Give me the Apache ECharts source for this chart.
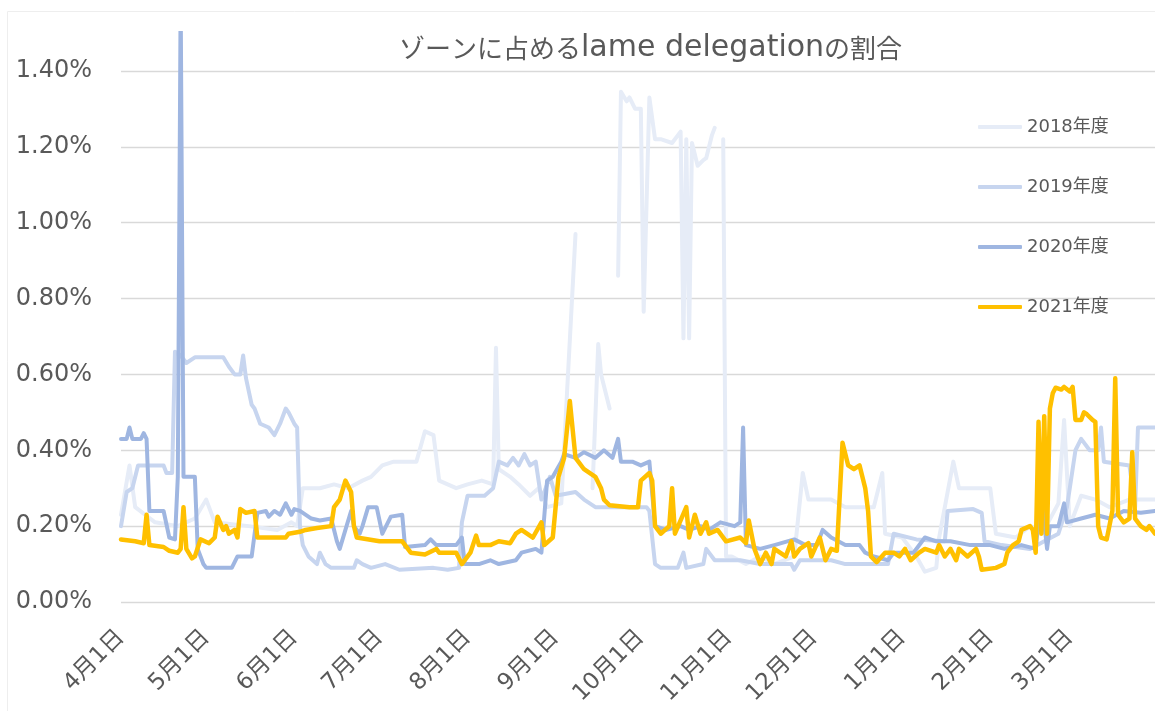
<!DOCTYPE html>
<html>
<head>
<meta charset="utf-8">
<script src="https://cdn.jsdelivr.net/npm/echarts@6/dist/echarts.min.js"></script>
<style>
html,body{margin:0;padding:0;background:#fff;}
#c{width:1155px;height:711px;}
</style>
</head>
<body>
<div id="c"></div>
<script>
// Tick labels / categories (fiscal year Apr 1 .. Mar 31)
const monthNames = [4,5,6,7,8,9,10,11,12,1,2,3];
const monthDays  = [30,31,30,31,31,30,31,30,31,31,28,31];
const seriesNames = ['2018年度','2019年度','2020年度','2021年度'];

// Series values: [day index from Apr 1, ratio in %]; null = missing
const s2018 = [[0,0.23],[3,0.36],[5,0.25],[12,0.21],[20,0.2],[26,0.22],[30,0.27],[33,0.21],[45,0.2],[55,0.19],[60,0.21],[62,0.2],[64,0.3],[70,0.3],[75,0.31],[80,0.3],[85,0.32],[88,0.33],[92,0.36],[96,0.37],[104,0.37],[107,0.45],[110,0.44],[112,0.32],[118,0.3],[122,0.31],[127,0.32],[131,0.31],[132,0.67],[133,0.35],[137,0.33],[140,0.31],[144,0.28],[147,0.3],[150,0.25],[155,0.26],[157,0.55],[160,0.97],[162,null],[166,0.3],[168,0.68],[169,0.6],[170,0.57],[172,0.51],[173,null],[175,0.86],[176,1.345],[178,1.32],[179,1.33],[181,1.3],[183,1.3],[184,0.765],[186,1.33],[188,1.22],[190,1.22],[194,1.21],[197,1.24],[198,0.695],[199,1.22],[200,0.695],[201,1.21],[203,1.15],[205,1.165],[206,1.17],[208,1.23],[209,1.25],[210,null],[212,1.22],[213,0.12],[215,0.12],[220,0.1],[225,0.12],[230,0.1],[237,0.12],[240,0.34],[242,0.27],[250,0.27],[255,0.25],[265,0.25],[268,0.34],[269,0.18],[275,0.17],[280,0.12],[283,0.08],[287,0.09],[288,0.17],[293,0.37],[295,0.3],[303,0.3],[306,0.3],[308,0.18],[315,0.17],[320,0.2],[325,0.19],[330,0.26],[332,0.48],[334,0.2],[338,0.28],[343,0.27],[348,0.25],[355,0.27],[364,0.27]];

const s2019 = [[0,0.2],[2,0.29],[4,0.3],[6,0.36],[15,0.36],[16,0.34],[18,0.34],[19,0.66],[21,0.65],[23,0.63],[26,0.645],[36,0.645],[38,0.62],[40,0.6],[42,0.6],[43,0.65],[44,0.59],[46,0.52],[47,0.51],[49,0.47],[52,0.46],[54,0.44],[56,0.47],[58,0.51],[59,0.5],[61,0.47],[62,0.46],[63,0.2],[64,0.15],[66,0.12],[69,0.1],[70,0.13],[72,0.1],[74,0.09],[82,0.09],[83,0.11],[85,0.1],[88,0.09],[93,0.1],[98,0.085],[110,0.09],[115,0.085],[119,0.09],[120,0.21],[122,0.28],[128,0.28],[131,0.3],[133,0.37],[136,0.36],[138,0.38],[140,0.36],[142,0.39],[144,0.36],[146,0.37],[148,0.27],[151,0.33],[153,0.28],[160,0.29],[163,0.27],[167,0.25],[185,0.25],[186,0.24],[188,0.1],[190,0.09],[196,0.09],[198,0.13],[199,0.09],[205,0.1],[206,0.14],[209,0.11],[218,0.11],[225,0.1],[236,0.1],[237,0.085],[239,0.11],[250,0.11],[255,0.1],[265,0.1],[270,0.1],[272,0.18],[280,0.165],[290,0.16],[291,0.24],[300,0.245],[303,0.235],[304,0.16],[310,0.15],[320,0.14],[325,0.16],[330,0.18],[333,0.25],[336,0.4],[338,0.43],[341,0.4],[344,0.4],[345,0.46],[346,0.37],[355,0.36],[357,0.25],[358,0.46],[364,0.46]];

const s2020 = [[0,0.43],[2,0.43],[3,0.46],[4,0.43],[7,0.43],[8,0.445],[9,0.43],[10,0.24],[15,0.24],[17,0.17],[19,0.165],[20,0.33],[21,1.6],[22,0.33],[26,0.33],[27,0.14],[29,0.1],[30,0.09],[39,0.09],[41,0.12],[46,0.12],[48,0.235],[51,0.24],[52,0.225],[54,0.24],[56,0.23],[58,0.26],[60,0.23],[61,0.245],[63,0.24],[67,0.22],[70,0.215],[74,0.22],[76,0.16],[77,0.14],[79,0.19],[81,0.24],[82,0.2],[84,0.18],[85,0.2],[87,0.25],[90,0.25],[92,0.18],[95,0.225],[99,0.23],[100,0.145],[107,0.15],[109,0.165],[111,0.15],[118,0.15],[120,0.17],[121,0.1],[126,0.1],[130,0.11],[133,0.1],[139,0.11],[141,0.13],[146,0.14],[148,0.13],[150,0.32],[152,0.33],[155,0.37],[156,0.39],[160,0.38],[163,0.395],[167,0.38],[170,0.4],[173,0.38],[175,0.43],[176,0.37],[180,0.37],[183,0.36],[186,0.37],[188,0.2],[192,0.19],[197,0.2],[200,0.19],[204,0.2],[207,0.19],[211,0.21],[216,0.2],[218,0.21],[219,0.46],[220,0.15],[225,0.14],[230,0.15],[237,0.165],[241,0.15],[245,0.15],[247,0.19],[250,0.17],[255,0.15],[260,0.15],[262,0.13],[265,0.12],[270,0.11],[272,0.13],[279,0.13],[283,0.17],[287,0.16],[292,0.16],[299,0.15],[306,0.15],[311,0.14],[317,0.15],[322,0.14],[324,0.28],[326,0.14],[327,0.2],[330,0.2],[332,0.26],[333,0.21],[338,0.22],[343,0.23],[348,0.22],[353,0.24],[359,0.235],[364,0.24]];

const s2021 = [[0,0.165],[5,0.16],[8,0.155],[9,0.23],[10,0.15],[15,0.145],[17,0.135],[20,0.13],[21,0.14],[22,0.25],[23,0.14],[25,0.115],[26,0.12],[28,0.165],[31,0.155],[33,0.17],[34,0.225],[36,0.19],[37,0.2],[38,0.18],[40,0.19],[41,0.17],[42,0.245],[44,0.235],[47,0.24],[48,0.17],[58,0.17],[59,0.18],[63,0.185],[65,0.19],[69,0.195],[74,0.2],[75,0.25],[77,0.27],[79,0.32],[81,0.29],[82,0.2],[83,0.17],[91,0.16],[99,0.16],[102,0.13],[107,0.125],[111,0.14],[112,0.13],[118,0.13],[120,0.1],[123,0.13],[125,0.175],[126,0.15],[130,0.15],[133,0.16],[137,0.155],[139,0.18],[141,0.19],[145,0.17],[148,0.21],[149,0.15],[152,0.17],[154,0.33],[156,0.38],[158,0.53],[160,0.38],[163,0.35],[167,0.33],[169,0.3],[170,0.27],[172,0.255],[179,0.25],[182,0.25],[183,0.32],[186,0.34],[187,0.32],[188,0.2],[190,0.18],[193,0.2],[194,0.3],[195,0.18],[199,0.25],[200,0.17],[202,0.23],[204,0.18],[206,0.21],[207,0.18],[210,0.19],[213,0.16],[218,0.17],[220,0.155],[221,0.215],[223,0.14],[225,0.1],[227,0.13],[229,0.1],[230,0.14],[234,0.12],[236,0.16],[237,0.12],[239,0.14],[242,0.155],[243,0.12],[246,0.17],[248,0.11],[250,0.14],[252,0.135],[254,0.42],[256,0.36],[258,0.35],[260,0.36],[262,0.3],[263,0.24],[264,0.12],[266,0.105],[269,0.13],[272,0.13],[274,0.12],[276,0.14],[278,0.11],[281,0.13],[283,0.14],[287,0.13],[288,0.15],[290,0.12],[292,0.14],[294,0.11],[295,0.14],[298,0.12],[301,0.14],[302,0.12],[303,0.085],[308,0.09],[311,0.1],[312,0.13],[314,0.15],[316,0.16],[317,0.19],[320,0.2],[321,0.19],[322,0.13],[323,0.475],[324,0.18],[325,0.49],[326,0.18],[327,0.51],[328,0.55],[329,0.565],[331,0.56],[332,0.567],[334,0.555],[335,0.567],[336,0.48],[338,0.48],[339,0.5],[340,0.495],[342,0.48],[343,0.475],[344,0.2],[345,0.17],[347,0.165],[349,0.24],[350,0.59],[351,0.23],[353,0.21],[355,0.22],[356,0.395],[357,0.22],[359,0.2],[361,0.19],[362,0.2],[364,0.18]];

// build categories from month tables
const categories = [];
monthNames.forEach((m, i) => { for (let d = 1; d <= monthDays[i]; d++) categories.push(m + '月' + d + '日'); });

const colors = ['#e6ecf7', '#c7d5ef', '#9fb6e1', '#ffc000'];
const widths = [4, 4, 4, 4.5];
const dataSets = [s2018, s2019, s2020, s2021];
const FONT = "'DejaVu Sans', 'Noto Sans CJK JP', sans-serif";

const chart = echarts.init(document.getElementById('c'), null, {renderer: 'canvas'});
chart.setOption({
  animation: false,
  backgroundColor: '#ffffff',
  color: colors,
  graphic: [{
    type: 'rect', shape: {x: 7.5, y: 11.5, width: 1200, height: 800},
    style: {fill: 'none', stroke: '#eeeeee', lineWidth: 1}, silent: true, z: -10
  }],
  title: {
    text: '{j|ゾーンに占める}{l|lame delegation}{j|の割合}',
    left: 394, top: 28,
    textStyle: {
      fontWeight: 'normal',
      rich: {
        j: {fontFamily: "'Noto Sans CJK JP'", fontSize: 26, fontWeight: 'normal', color: '#595959'},
        l: {fontFamily: "'DejaVu Sans'", fontSize: 30, fontWeight: 'normal', color: '#595959'}
      }
    }
  },
  legend: {
    orient: 'vertical', left: 978, top: 117, padding: 0,
    icon: 'roundRect',
    itemWidth: 44, itemHeight: 4, itemGap: 40,
    data: seriesNames,
    textStyle: {fontFamily: FONT, fontSize: 18, color: '#595959', lineHeight: 20, padding: [0, 0, 0, 0]}
  },
  grid: {left: 121, right: 0, top: 33, bottom: 109, containLabel: false},
  xAxis: {
    type: 'category', data: categories, boundaryGap: false,
    axisLine: {show: false}, axisTick: {show: false}, splitLine: {show: false},
    axisLabel: {
      interval: (idx, val) => val.endsWith('月1日'),
      rotate: 45, margin: 32,
      fontFamily: FONT, fontSize: 23, color: '#595959'
    }
  },
  yAxis: {
    type: 'value', min: 0, max: 1.5, interval: 0.2,
    axisLine: {show: false}, axisTick: {show: false},
    splitLine: {show: true, showMaxLine: false, lineStyle: {color: '#d9d9d9', width: 1.3}},
    axisLabel: {
      showMaxLabel: false, margin: 29,
      formatter: v => v.toFixed(2) + '%',
      fontFamily: FONT, fontSize: 24, color: '#595959'
    }
  },
  series: dataSets.map((d, i) => ({
    name: seriesNames[i], type: 'line', data: d,
    symbol: 'none', showSymbol: false, connectNulls: false, clip: true,
    lineStyle: {color: colors[i], width: widths[i], cap: 'round', join: 'round'},
    itemStyle: {color: colors[i]},
    z: 2 + i
  }))
});
</script>
</body>
</html>
